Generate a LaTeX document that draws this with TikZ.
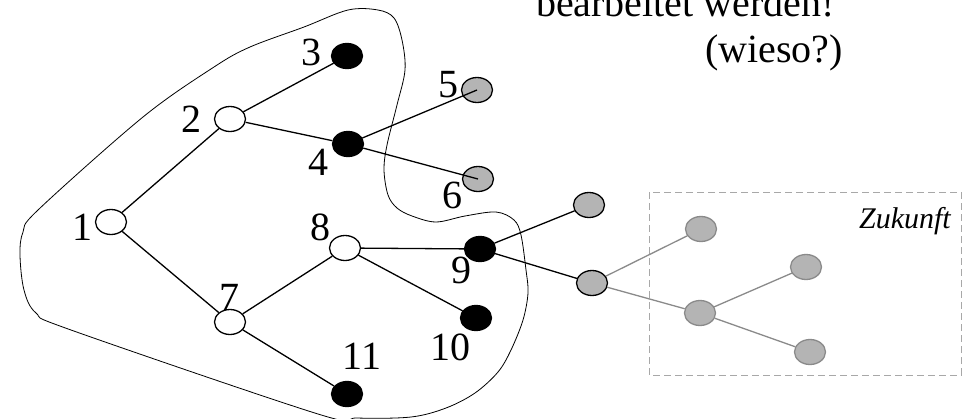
\documentclass[tikz,border=0pt]{standalone}
\usepackage{fontspec}
\setmainfont{Liberation Serif}
\usetikzlibrary{shapes.geometric}
\definecolor{nodegray}{HTML}{B4B4B4}
\definecolor{futgray}{HTML}{8A8A8A}
\definecolor{boxgray}{HTML}{A8A8A8}
\begin{document}
\begin{tikzpicture}[x=1pt,y=-1pt,
  vtx/.style={ellipse, minimum width=31pt, minimum height=25pt, inner sep=0pt, line width=1.3pt, draw=black},
  wnode/.style={vtx, fill=white},
  bnode/.style={vtx, fill=black},
  gnode/.style={vtx, fill=nodegray},
  fnode/.style={vtx, fill=nodegray, draw=futgray},
  edge/.style={line width=1.3pt, draw=black},
  fedge/.style={line width=1.3pt, draw=futgray},
  lab/.style={font=\fontsize{40}{48}\selectfont, anchor=base, inner sep=0pt},
  fbox/.style={draw=boxgray, line width=1pt, dash pattern=on 7pt off 4pt},
  blob/.style={line width=0.8pt, draw=black}
]
\useasboundingbox (0,0) rectangle (968,418);
\clip (0,0) rectangle (968,418);

% outline
\draw[blob] plot[smooth cycle, tension=0.55] coordinates {
 (348,10) (378,10) (394,18) (402,40) (405,70) (397,105) (387,145) (384,170)
 (388,195) (397,208) (412,216) (436,222) (465,216) (496,212) (514,220) (521,235)
 (526,270) (528,293) (523,320) (511,350) (498,372) (475,393) (446,408) (411,417)
 (357,418) (318,414) (71,330) (36,313) (24,290) (20,255) (23,232) (38,210)
 (143,117) (214,67) (250,47) (304,27)};

% future box
\draw[fbox] (649,192) rectangle (961,375);
\node[font=\itshape\fontsize{30}{32}\selectfont, anchor=base east, inner sep=0pt] (zk) at (951,228) {Zukunft};

% nodes
\node[wnode] (n1) at (111,222) {};
\node[wnode] (n2) at (230,119) {};
\node[bnode] (n3) at (347,56) {};
\node[bnode] (n4) at (348,144) {};
\node[gnode] (n5) at (477,90) {};
\node[gnode] (n6) at (478,179) {};
\node[wnode] (n7) at (230,322) {};
\node[wnode] (n8) at (345,248) {};
\node[bnode] (n9) at (480,249) {};
\node[bnode] (n10) at (476,318) {};
\node[bnode] (n11) at (347,394) {};
\node[gnode] (na) at (589,205) {};
\node[gnode] (nb) at (592,283) {};
\node[fnode] (nc) at (701,229) {};
\node[fnode] (nd) at (700,313) {};
\node[fnode] (ne) at (806,267) {};
\node[fnode] (nf) at (810,352) {};

% edges
\draw[edge] (n1) -- (n2);
\draw[edge] (n2) -- (n3);
\draw[edge] (n2) -- (n4);
\draw[edge] (n4) -- (n5.center);
\draw[edge] (n4) -- (n6.center);
\draw[edge] (n1) -- (n7);
\draw[edge] (n7) -- (n8);
\draw[edge] (n7) -- (n11);
\draw[edge] (n8) -- (n9);
\draw[edge] (n8) -- (n10);
\draw[edge] (n9) -- (na);
\draw[edge] (n9) -- (nb);
\draw[fedge] (nb) -- (nc);
\draw[fedge] (nb) -- (nd);
\draw[fedge] (nd) -- (ne);
\draw[fedge] (nd) -- (nf);

% labels
\node[lab] (l1) at (82,240) {1};
\node[lab] (l2) at (191,132) {2};
\node[lab] (l3) at (311,65) {3};
\node[lab] (l4) at (318,175) {4};
\node[lab] (l5) at (448,97) {5};
\node[lab] (l6) at (452,208) {6};
\node[lab] (l7) at (229,310) {7};
\node[lab] (l8) at (320,240) {8};
\node[lab] (l9) at (461,283) {9};
\node[lab] (l10) at (450,360) {10};
\node[lab] (l11) at (362,369) {11};

% text
\node[lab, anchor=base east] (t1) at (835,16) {bearbeitet werden!};
\node[lab, anchor=base east] (t2) at (843,62) {(wieso?)};
\end{tikzpicture}
\end{document}
